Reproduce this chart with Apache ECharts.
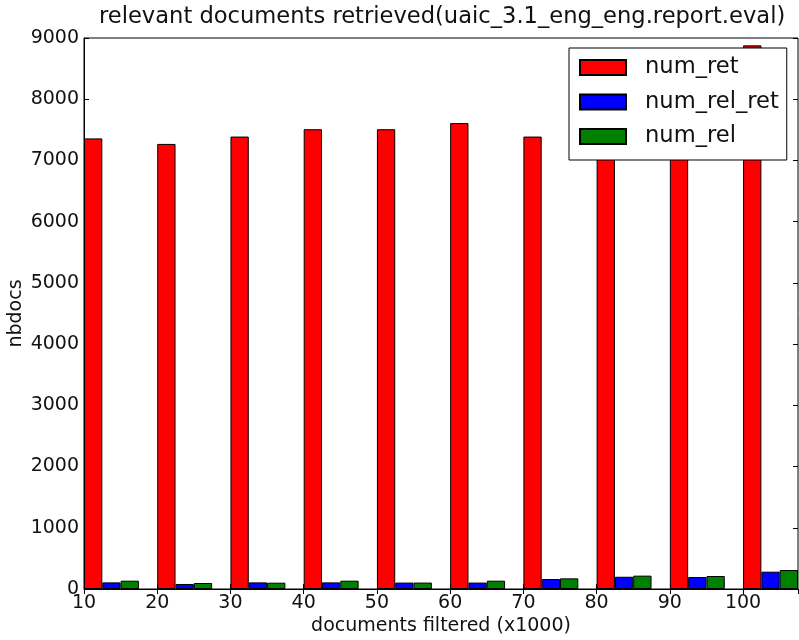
<!DOCTYPE html>
<html>
<head>
<meta charset="utf-8">
<script src="https://cdn.jsdelivr.net/npm/echarts@6/dist/echarts.min.js"></script>
<style>
  html, body { margin: 0; padding: 0; background: #fff; }
  #chart { width: 799px; height: 640px; }
</style>
</head>
<body>
<div id="chart"></div>
<script>
const docsFiltered = [10, 20, 30, 40, 50, 60, 70, 80, 90, 100]
const numRet = [7360, 7270, 7390, 7510, 7510, 7610, 7390, 7300, 7250, 8880]
const numRelRet = [108, 82, 108, 108, 105, 105, 163, 200, 196, 283]
const numRel = [136, 98, 103, 136, 105, 136, 174, 218, 212, 310]
const seriesNames = ['num_ret', 'num_rel_ret', 'num_rel']
const seriesColors = ['#ff0000', '#0000ff', '#008000']

const chart = echarts.init(document.getElementById('chart'))
const font = 'DejaVu Sans'

// bars of one group sit to the right of their x value, like matplotlib's bar(x, align='edge')
const barAxisShift = 3.75

const pairs = values => docsFiltered.map((x, i) => [x, values[i]])

const makeBar = (name, values, color) => ({
  name: name,
  type: 'bar',
  xAxisIndex: 2,
  barWidth: '25%',
  barGap: '0%',
  data: pairs(values),
  itemStyle: { color: color, borderColor: '#000', borderWidth: 1 }
})

const option = {
  animation: false,
  textStyle: { fontFamily: font },
  title: {
    text: 'relevant documents retrieved(uaic_3.1_eng_eng.report.eval)',
    left: 94,
    top: 1,
    textStyle: { fontFamily: font, fontSize: 22.6, fontWeight: 'normal', color: '#111' }
  },
  legend: {
    orient: 'vertical',
    left: 569,
    top: 48,
    backgroundColor: '#fff',
    borderColor: '#000',
    borderWidth: 1,
    borderRadius: 0,
    padding: [8, 8, 12, 10],
    itemWidth: 46,
    itemHeight: 15,
    itemGap: 11.5,
    icon: 'rect',
    textStyle: { fontFamily: font, fontSize: 22.6, color: '#111', padding: [0, 0, 0, 14] },
    data: seriesNames
  },
  grid: {
    left: 84,
    right: 1,
    top: 38,
    bottom: 51,
    containLabel: false,
    outerBoundsMode: 'none',
    show: true,
    borderColor: '#000',
    borderWidth: 1,
    backgroundColor: '#fff'
  },
  xAxis: [
    {
      type: 'value',
      position: 'bottom',
      min: 10,
      max: 107.5,
      interval: 10,
      name: 'documents filtered (x1000)',
      nameLocation: 'middle',
      nameGap: 28,
      nameMoveOverlap: false,
      nameTextStyle: { fontFamily: font, fontSize: 19, color: '#111' },
      axisLine: { show: true, lineStyle: { color: '#000' } },
      axisTick: { inside: true, length: 5, lineStyle: { color: '#000' } },
      axisLabel: { fontFamily: font, fontSize: 19, color: '#111', margin: 5, showMaxLabel: false },
      splitLine: { show: false }
    },
    {
      type: 'value',
      position: 'top',
      min: 10,
      max: 107.5,
      interval: 10,
      axisLine: { show: false },
      axisTick: { inside: true, length: 5, lineStyle: { color: '#000' } },
      axisLabel: { show: false },
      splitLine: { show: false }
    },
    {
      type: 'value',
      show: false,
      min: 10 - barAxisShift,
      max: 107.5 - barAxisShift
    }
  ],
  yAxis: [
    {
      type: 'value',
      position: 'left',
      min: 0,
      max: 9000,
      interval: 1000,
      name: 'nbdocs',
      nameLocation: 'middle',
      nameGap: 58,
      nameMoveOverlap: false,
      nameTextStyle: { fontFamily: font, fontSize: 19, color: '#111' },
      axisLine: { show: true, lineStyle: { color: '#000' } },
      axisTick: { inside: true, length: 5, lineStyle: { color: '#000' } },
      axisLabel: { fontFamily: font, fontSize: 19, color: '#111', margin: 5, formatter: v => String(v) },
      splitLine: { show: false }
    },
    {
      type: 'value',
      position: 'right',
      min: 0,
      max: 9000,
      interval: 1000,
      axisLine: { show: false },
      axisTick: { inside: true, length: 5, lineStyle: { color: '#000' } },
      axisLabel: { show: false },
      splitLine: { show: false }
    }
  ],
  series: [
    makeBar(seriesNames[0], numRet, seriesColors[0]),
    makeBar(seriesNames[1], numRelRet, seriesColors[1]),
    makeBar(seriesNames[2], numRel, seriesColors[2])
  ]
}

chart.setOption(option)
</script>
</body>
</html>
